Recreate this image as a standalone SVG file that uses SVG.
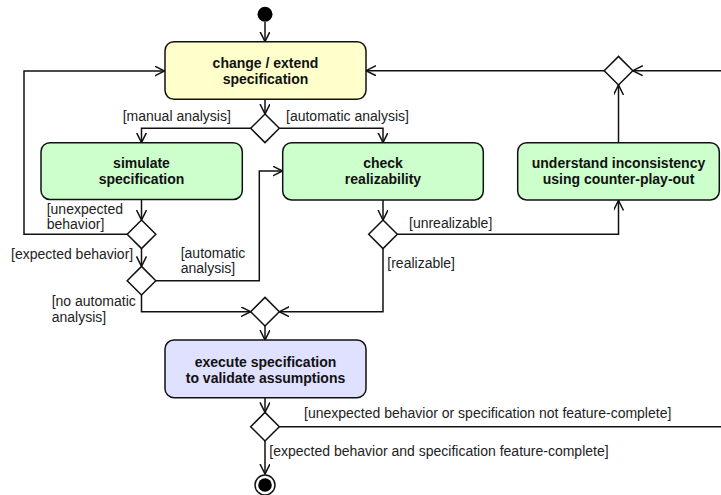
<svg xmlns="http://www.w3.org/2000/svg" width="721" height="495" viewBox="0 0 721 495">
<style>
.box{stroke:#111;stroke-width:1.5}
.yel{fill:#ffffcc}
.grn{fill:#ccffcc}
.lav{fill:#e0e0ff}
.dia{fill:#fff;stroke:#111;stroke-width:1.5}
.t{font-family:"Liberation Sans",Arial,sans-serif;font-size:14px;font-weight:bold;fill:#111;text-anchor:middle}
.l{font-family:"Liberation Sans",Arial,sans-serif;font-size:14px;fill:#222}
.c{fill:none;stroke:#111;stroke-width:1.5}
.a{marker-end:url(#arr)}
</style>
<defs>
<marker id="arr" markerUnits="userSpaceOnUse" markerWidth="12" markerHeight="12" refX="10" refY="5" orient="auto">
<path d="M0,0 L10,5 L0,10" fill="none" stroke="#111" stroke-width="1.5"/>
</marker>
</defs>
<g id="connectors">
<path class="c a" d="M265,22 V41.5"/>
<path class="c a" d="M265,99.5 V114"/>
<path class="c a" d="M250.7,128.3 H141.5 V142.5"/>
<path class="c a" d="M279.3,128.3 H383 V142.5"/>
<path class="c a" d="M141.5,199.5 V220"/>
<path class="c a" d="M127.2,234.3 H24 V71 H164.5"/>
<path class="c a" d="M141.5,248.6 V266.4"/>
<path class="c a" d="M156,280.7 H259.3 V171 H282.5"/>
<path class="c a" d="M141.5,295 V311.7 H250.7"/>
<path class="c a" d="M383,200 V220"/>
<path class="c a" d="M397.3,234.3 H618.5 V200.5"/>
<path class="c a" d="M383,248.6 V311.7 H279.3"/>
<path class="c a" d="M618.5,142.5 V85"/>
<path class="c a" d="M604.2,70.7 H366"/>
<path class="c a" d="M722,70.7 H632.8"/>
<path class="c a" d="M265,326 V340"/>
<path class="c a" d="M265,398 V412.4"/>
<path class="c" d="M279.3,426.7 H722"/>
<path class="c a" d="M265,441 V474"/>
</g>
<g id="labels">
<text class="l" x="122.7" y="121">[manual analysis]</text>
<text class="l" x="286" y="121">[automatic analysis]</text>
<text class="l" x="46.7" y="213.5">[unexpected</text>
<text class="l" x="46.7" y="229">behavior]</text>
<text class="l" x="11" y="259">[expected behavior]</text>
<text class="l" x="180.7" y="257.5">[automatic</text>
<text class="l" x="180.7" y="272.5">analysis]</text>
<text class="l" x="51.7" y="306">[no automatic</text>
<text class="l" x="51.7" y="322">analysis]</text>
<text class="l" x="409" y="227.5">[unrealizable]</text>
<text class="l" x="387.3" y="268">[realizable]</text>
<text class="l" x="304" y="417.5">[unexpected behavior or specification not feature-complete]</text>
<text class="l" x="269.3" y="455.5">[expected behavior and specification feature-complete]</text>
</g>
<g id="start"><circle cx="265" cy="14.3" r="7.5" fill="#000"/></g>
<g id="change">
<rect class="box yel" x="165" y="41.7" width="201" height="57.6" rx="9"/>
<text class="t" x="265.5" y="67.7">change / extend</text>
<text class="t" x="265.5" y="83.5">specification</text>
</g>
<g id="d-analysis"><polygon class="dia" points="265,114 279.3,128.3 265,142.6 250.7,128.3"/></g>
<g id="simulate">
<rect class="box grn" x="41" y="142.7" width="201.3" height="56.8" rx="9"/>
<text class="t" x="141.5" y="168.3">simulate</text>
<text class="t" x="141.5" y="184.3">specification</text>
</g>
<g id="check">
<rect class="box grn" x="282.7" y="142.7" width="200.6" height="57.3" rx="9"/>
<text class="t" x="383" y="168.3">check</text>
<text class="t" x="383" y="184.3">realizability</text>
</g>
<g id="understand">
<rect class="box grn" x="517.7" y="142.7" width="201.6" height="57.3" rx="9"/>
<text class="t" x="618.5" y="168.3">understand inconsistency</text>
<text class="t" x="618.5" y="184.3">using counter-play-out</text>
</g>
<g id="d-sim"><polygon class="dia" points="141.5,220 155.8,234.3 141.5,248.6 127.2,234.3"/></g>
<g id="d-auto"><polygon class="dia" points="141.5,266.4 155.8,280.7 141.5,295 127.2,280.7"/></g>
<g id="d-real"><polygon class="dia" points="383,220 397.3,234.3 383,248.6 368.7,234.3"/></g>
<g id="d-top"><polygon class="dia" points="618.5,56.4 632.8,70.7 618.5,85 604.2,70.7"/></g>
<g id="d-merge"><polygon class="dia" points="265,297.4 279.3,311.7 265,326 250.7,311.7"/></g>
<g id="execute">
<rect class="box lav" x="165" y="340" width="201" height="57.7" rx="9"/>
<text class="t" x="265.5" y="367.3">execute specification</text>
<text class="t" x="265.5" y="382.7">to validate assumptions</text>
</g>
<g id="d-final"><polygon class="dia" points="265,412.4 279.3,426.7 265,441 250.7,426.7"/></g>
<g id="end">
<circle cx="265" cy="485" r="10" fill="#fff" stroke="#111" stroke-width="1.5"/>
<circle cx="265" cy="485" r="6.8" fill="#000"/>
</g>
</svg>
